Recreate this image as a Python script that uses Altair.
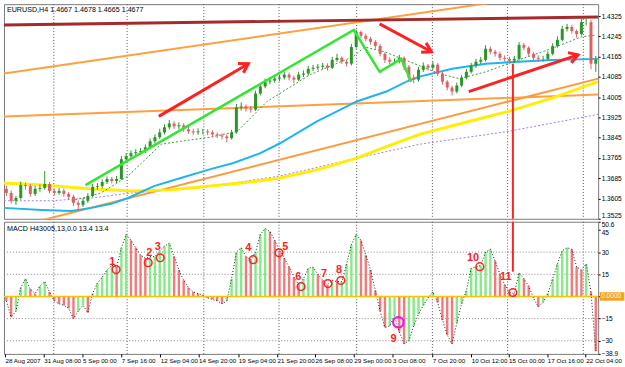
import json
import math
import altair as alt
import pandas as pd

FONT = "Liberation Sans"

# ---------------- data ----------------
price_title = "EURUSD,H4  1.4667 1.4678 1.4665 1.4677"
macd_title = "MACD H43005,13,0.0 13.4 13.4"

price_ticks = [1.3525, 1.3605, 1.3685, 1.3765, 1.3845, 1.3925, 1.4005, 1.4085, 1.4165, 1.4245, 1.4325]
macd_ticks = [50.6, 45, 30, 15, 0, -15, -30, -38.9]
macd_grid = [30, 15, -15, -30]

dates = ["28 Aug 2007", "31 Aug 08:00", "5 Sep 00:00", "7 Sep 16:00", "12 Sep 04:00",
         "14 Sep 20:00", "19 Sep 04:00", "21 Sep 20:00", "26 Sep 08:00", "29 Sep 00:00",
         "3 Oct 08:00", "7 Oct 20:00", "10 Oct 12:00", "15 Oct 00:00", "17 Oct 16:00",
         "22 Oct 04:00"]
date_pos = [-0.3, 7.8, 15.9, 24.0, 32.1, 40.1, 48.4, 56.5, 64.4, 72.5, 80.6, 88.9,
            97.0, 104.8, 112.9, 120.9]
grid_pos = [9.9, 25.2, 41.2, 56.9, 73.1, 88.9, 104.6, 120.4]

first_open = 1.3643
closes = [1.3627, 1.3596, 1.3607, 1.3658, 1.3654, 1.3623, 1.3643, 1.3647, 1.3662, 1.3635,
          1.3627, 1.3635, 1.3623, 1.3612, 1.3588, 1.3580, 1.3596, 1.3615, 1.3651, 1.3654,
          1.3670, 1.3682, 1.3674, 1.3682, 1.3760, 1.3772, 1.3784, 1.3788, 1.3792, 1.3807,
          1.3831, 1.3847, 1.3866, 1.3886, 1.3901, 1.3890, 1.3894, 1.3878, 1.3870, 1.3866,
          1.3870, 1.3870, 1.3866, 1.3858, 1.3854, 1.3850, 1.3843, 1.3866, 1.3964, 1.3968,
          1.3960, 1.3956, 1.4019, 1.4047, 1.4066, 1.4070, 1.4078, 1.4082, 1.4094, 1.4082,
          1.4074, 1.4094, 1.4098, 1.4117, 1.4121, 1.4125, 1.4129, 1.4121, 1.4152, 1.4160,
          1.4145, 1.4137, 1.4203, 1.4262, 1.4247, 1.4235, 1.4223, 1.4207, 1.4176, 1.4152,
          1.4145, 1.4145, 1.4160, 1.4125, 1.4082, 1.4074, 1.4113, 1.4129, 1.4121, 1.4133,
          1.4098, 1.4066, 1.4043, 1.4027, 1.4051, 1.4082, 1.4105, 1.4129, 1.4145, 1.4152,
          1.4196, 1.4184, 1.4176, 1.4160, 1.4156, 1.4149, 1.4156, 1.4211, 1.4200, 1.4176,
          1.4160, 1.4156, 1.4156, 1.4176, 1.4207, 1.4231, 1.4274, 1.4282, 1.4266, 1.4254,
          1.4301, 1.4301, 1.4137, 1.4152]
highs = [1.3655, 1.3636, 1.3615, 1.3672, 1.3668, 1.3662, 1.3655, 1.3660, 1.3713, 1.3670,
         1.3645, 1.3646, 1.3644, 1.3630, 1.3620, 1.3598, 1.3606, 1.3626, 1.3662, 1.3666,
         1.3680, 1.3692, 1.3690, 1.3694, 1.3772, 1.3784, 1.3795, 1.3800, 1.3804, 1.3818,
         1.3842, 1.3858, 1.3880, 1.3898, 1.3915, 1.3910, 1.3906, 1.3902, 1.3888, 1.3880,
         1.3882, 1.3880, 1.3878, 1.3874, 1.3866, 1.3862, 1.3858, 1.3876, 1.3978, 1.3984,
         1.3976, 1.3970, 1.4030, 1.4060, 1.4078, 1.4082, 1.4090, 1.4094, 1.4106, 1.4102,
         1.4090, 1.4105, 1.4110, 1.4128, 1.4132, 1.4136, 1.4140, 1.4138, 1.4164, 1.4176,
         1.4166, 1.4152, 1.4215, 1.4272, 1.4268, 1.4256, 1.4244, 1.4230, 1.4214, 1.4182,
         1.4162, 1.4158, 1.4172, 1.4166, 1.4132, 1.4094, 1.4124, 1.4142, 1.4136, 1.4145,
         1.4140, 1.4105, 1.4072, 1.4050, 1.4062, 1.4092, 1.4116, 1.4140, 1.4156, 1.4164,
         1.4210, 1.4205, 1.4192, 1.4184, 1.4170, 1.4164, 1.4168, 1.4222, 1.4218, 1.4206,
         1.4182, 1.4170, 1.4168, 1.4186, 1.4218, 1.4244, 1.4286, 1.4294, 1.4290, 1.4272,
         1.4321, 1.4315, 1.4310, 1.4168]
lows = [1.3615, 1.3585, 1.3580, 1.3600, 1.3640, 1.3612, 1.3615, 1.3632, 1.3640, 1.3625,
        1.3618, 1.3620, 1.3612, 1.3600, 1.3575, 1.3556, 1.3572, 1.3588, 1.3610, 1.3640,
        1.3645, 1.3662, 1.3664, 1.3666, 1.3678, 1.3752, 1.3764, 1.3774, 1.3778, 1.3784,
        1.3800, 1.3822, 1.3840, 1.3858, 1.3878, 1.3880, 1.3878, 1.3868, 1.3860, 1.3855,
        1.3856, 1.3858, 1.3855, 1.3848, 1.3844, 1.3838, 1.3827, 1.3838, 1.3860, 1.3952,
        1.3948, 1.3944, 1.3950, 1.4012, 1.4040, 1.4056, 1.4062, 1.4068, 1.4074, 1.4072,
        1.4060, 1.4068, 1.4084, 1.4090, 1.4108, 1.4112, 1.4115, 1.4110, 1.4116, 1.4144,
        1.4136, 1.4126, 1.4130, 1.4196, 1.4238, 1.4225, 1.4212, 1.4196, 1.4166, 1.4140,
        1.4134, 1.4134, 1.4138, 1.4112, 1.4070, 1.4060, 1.4066, 1.4104, 1.4110, 1.4112,
        1.4088, 1.4054, 1.4032, 1.4012, 1.4020, 1.4044, 1.4075, 1.4098, 1.4120, 1.4136,
        1.4146, 1.4174, 1.4165, 1.4150, 1.4145, 1.4138, 1.4140, 1.4150, 1.4190, 1.4165,
        1.4150, 1.4145, 1.4146, 1.4150, 1.4170, 1.4200, 1.4225, 1.4264, 1.4256, 1.4240,
        1.4248, 1.4288, 1.4115, 1.4105]

macd = [-3, -14, -10, 6, 12, 5, 2, 7, 10, 3,
        -3, -5, -6, -8, -15, -10, -6, -11, 2, 9,
        13, 18, 21, 20, 33, 42, 38, 33, 28, 26,
        27, 27, 31, 34, 36, 27, 18, 11, 6, 3,
        2, 1, -1, -2, -3, -5, -3, 12, 30, 33,
        27, 25, 30, 42, 46, 44, 38, 31, 26, 20,
        13, 8, 12, 19, 20, 15, 11, 8, 11, 10,
        10, 22, 35, 42, 38, 28, 18, 4, -10, -21,
        -20, -13, -24, -32, -30, -20, -12, -6, -1, 3,
        -4, -16, -26, -32, -18, -5, 4, 19, 20, 21,
        30, 32, 24, 15, 8, 3, 2, 16, 12, 7,
        -1, -7, -4, 2, 12, 22, 31, 33, 32, 20,
        18, 22, 3, -37]

# moving averages (key points: bar index, price)
blue_x = [-0.5, 7.4, 13.6, 17.7, 21.9, 25.4, 30.8, 36.4, 42.6, 47.4, 53.0, 57.1, 61.3,
          64.8, 69.0, 73.1, 79.3, 83.5, 86.2, 93.0, 100.1, 106.9, 113.7, 123.5]
blue_y = [1.3568, 1.3560, 1.3556, 1.3568, 1.3584, 1.3607, 1.3654, 1.3686, 1.3721, 1.3745,
          1.3784, 1.3823, 1.3870, 1.3909, 1.3949, 1.3988, 1.4027, 1.4066, 1.4086, 1.4117,
          1.4137, 1.4145, 1.4152, 1.4156]
yellow_x = [-0.5, 7.4, 17.7, 26.0, 34.3, 42.6, 50.9, 57.1, 65.4, 73.1, 80.0, 86.2, 96.5,
            104.8, 113.7, 123.5]
yellow_y = [1.3666, 1.3658, 1.3643, 1.3635, 1.3639, 1.3654, 1.3670, 1.3686, 1.3721, 1.3764,
            1.3815, 1.3858, 1.3909, 1.3949, 1.4000, 1.4066]
purple_x = [-0.5, 9.5, 17.7, 26.0, 40.6, 57.1, 73.1, 86.2, 104.8, 123.5]
purple_y = [1.3596, 1.3596, 1.3607, 1.3627, 1.3647, 1.3694, 1.3764, 1.3819, 1.3870, 1.3937]
gdot_x = [13.6, 19.8, 25.4, 32.3, 36.4, 42.6, 48.2, 54.4, 63.4, 72.3, 74.8, 78.9, 84.1,
          90.3, 94.5, 100.1, 106.9, 113.7, 120.0, 123.1]
gdot_y = [1.3596, 1.3627, 1.3694, 1.3819, 1.3831, 1.3847, 1.3870, 1.3988, 1.4094, 1.4164,
          1.4203, 1.4184, 1.4145, 1.4098, 1.4078, 1.4105, 1.4152, 1.4196, 1.4243, 1.4250]

# trend lines (two end points each)
brown_line = [(-0.5, 1.4290), (123.5, 1.4321)]
orange_top = [(-0.5, 1.4098), (123.5, 1.4439)]
orange_mid = [(-0.5, 1.3929), (123.5, 1.4015)]
orange_low = [(-0.5, 1.3481), (123.5, 1.4078)]
zigzag_x = [16.5, 72.5, 77.9, 82.4, 84.5]
zigzag_y = [1.3658, 1.4270, 1.4105, 1.4156, 1.4066]

arrow_x0 = [31.8, 77.9, 96.5]
arrow_y0 = [1.3929, 1.4294, 1.4027]
arrow_x1 = [50.5, 88.7, 119.3]
arrow_y1 = [1.4137, 1.4184, 1.4172]

vline_x = 105.7
vline_top_price = 1.4137
vline_bottom_macd = 16.8

# numbered marks on the MACD panel
mark_ids = ["1", "2", "3", "4", "5", "6", "7", "8", "9", "10", "11"]
mark_x = [22.9, 29.6, 32.1, 51.5, 56.9, 61.5, 67.1, 69.8, 81.8, 98.8, 105.7]
mark_v = [18.2, 22.9, 26.2, 24.9, 29.6, 6.7, 8.7, 10.8, -17.5, 20.2, 2.7]
label_x = [22.1, 29.8, 31.6, 50.5, 58.2, 60.9, 66.3, 69.4, 80.8, 97.4, 104.2]
label_v = [23.5, 29.6, 33.6, 33.0, 33.6, 13.4, 15.5, 18.2, -28.9, 26.2, 13.4]
magenta_mark = "9"

# ---------------- layout ----------------
W, HT, HB = 598, 216, 133
N = len(closes)
idx = list(range(N))
opens = [first_open] + closes[:-1]
RED = "#ff2020"

xs = alt.Scale(domain=[-0.5, N - 0.5], nice=False, zero=False)
ps = alt.Scale(domain=[1.3525, 1.4372], nice=False, zero=False)
ms = alt.Scale(domain=[-38.9, 50.6], nice=False, zero=False)
sx = W / N
sy = HT / (1.4372 - 1.3525)

price_axis = alt.Axis(orient="right", values=price_ticks, format=".4f", labelFont=FONT,
                      labelFontSize=6.6, labelColor="#000", tickSize=2, tickColor="#000",
                      labelPadding=1, grid=False, domain=False, title=None, labelOverlap=False,
                      labelBaseline={"condition": {"test": f"datum.value == {price_ticks[0]}",
                                                   "value": "bottom"}, "value": "middle"})
macd_axis = alt.Axis(orient="right", values=macd_ticks, labelFont=FONT, labelFontSize=6.6,
                     labelColor="#000", tickSize=2, tickColor="#000", labelPadding=1,
                     grid=False, domain=False, title=None, labelOverlap=False,
                     labelBaseline={"condition": {"test": f"datum.value >= {macd_ticks[1]}",
                                                  "value": "top"}, "value": "middle"},
                     labelExpr="datum.value == 0 ? '' : (datum.value == 50.6 || datum.value == -38.9 ? format(datum.value, '.1f') : format(datum.value, 'd'))")
date_axis = alt.Axis(orient="bottom", values=date_pos, labelFont=FONT, labelFontSize=6.3,
                     labelColor="#000", tickSize=3, tickColor="#000", labelPadding=1,
                     labelAlign="left", labelFlush=False, labelOverlap=False, grid=False,
                     domain=False, title=None,
                     labelExpr=f"{json.dumps(dates)}[indexof({json.dumps(date_pos)}, datum.value)]")


def PX(f="x"):
    return alt.X(f"{f}:Q", scale=xs, axis=None)


def PY(f="y"):
    return alt.Y(f"{f}:Q", scale=ps, axis=price_axis)


def MX(f="x"):
    return alt.X(f"{f}:Q", scale=xs, axis=date_axis)


def MY(f="v"):
    return alt.Y(f"{f}:Q", scale=ms, axis=macd_axis)


def pline(xv, yv, **kw):
    df = pd.DataFrame({"x": xv, "y": yv})
    return alt.Chart(df).mark_line(clip=True, **kw).encode(x=PX(), y=PY())


def seg(pts, **kw):
    return pline([p[0] for p in pts], [p[1] for p in pts], **kw)


# ---------------- price panel ----------------
gdf = pd.DataFrame({"x": grid_pos})
vgrid_top = alt.Chart(gdf).mark_rule(color="#555", strokeDash=[1, 2], strokeWidth=1).encode(x=PX())

cdf = pd.DataFrame({"x": idx, "o": opens, "c": closes, "h": highs, "l": lows})
cdf["dir"] = ["up" if c >= o else "dn" for o, c in zip(opens, closes)]
ccol = alt.condition(alt.datum.dir == "up", alt.value("#2a962a"), alt.value("#d96363"))
wicks = alt.Chart(cdf).mark_rule(strokeWidth=1).encode(x=PX(), y=PY("l"), y2=alt.Y2("h"), color=ccol)
bodies = alt.Chart(cdf).mark_rule(strokeWidth=3).encode(x=PX(), y=PY("o"), y2=alt.Y2("c"), color=ccol)

adf = pd.DataFrame({"x": arrow_x0 + arrow_x1, "y": arrow_y0 + arrow_y1,
                    "id": list(range(len(arrow_x0))) * 2})
arrows = alt.Chart(adf).mark_line(color=RED, strokeWidth=3, clip=True).encode(
    x=PX(), y=PY(), detail="id:N")
angles = [math.degrees(math.atan2(-(y1 - y0) * sy, (x1 - x0) * sx)) % 360
          for x0, y0, x1, y1 in zip(arrow_x0, arrow_y0, arrow_x1, arrow_y1)]
hdf = pd.DataFrame({"x": arrow_x1, "y": arrow_y1, "ang": angles})
heads = alt.Chart(hdf).mark_point(shape="M -1 -0.6 L 0 0 L -1 0.6", size=320, filled=False,
                                  strokeWidth=3, color=RED, opacity=1).encode(
    x=PX(), y=PY(), angle=alt.Angle("ang:Q", scale=None))

vdf_top = pd.DataFrame({"x": [vline_x], "y": [vline_top_price], "y2": [1.3525]})
vline_top = alt.Chart(vdf_top).mark_rule(color=RED, strokeWidth=2).encode(
    x=PX(), y=PY(), y2=alt.Y2("y2"))

tdf = pd.DataFrame({"t": [price_title]})
title_top = alt.Chart(tdf).mark_text(align="left", baseline="middle", font=FONT, fontSize=7.2,
                                     color="#000").encode(x=alt.value(3), y=alt.value(6), text="t:N")

top = alt.layer(
    vgrid_top,
    seg(orange_top, color="#ffa040", strokeWidth=2),
    seg(orange_mid, color="#ffa040", strokeWidth=2),
    seg(orange_low, color="#ff9a3c", strokeWidth=2),
    seg(brown_line, color="#a52a2a", strokeWidth=3),
    pline(purple_x, purple_y, color="#a878f0", strokeWidth=1, strokeDash=[2, 2]),
    pline(yellow_x, yellow_y, color="#ffee00", strokeWidth=3),
    pline(blue_x, blue_y, color="#1eb4f0", strokeWidth=2),
    pline(gdot_x, gdot_y, color="#3a9a3a", strokeWidth=1, strokeDash=[2, 2]),
    wicks, bodies,
    pline(zigzag_x, zigzag_y, color="#33e633", strokeWidth=2.5),
    arrows, heads, vline_top, title_top,
).properties(width=W, height=HT)

# ---------------- MACD panel ----------------
mdf = pd.DataFrame({"x": idx, "v": macd, "z": [0] * N})
mdf["dir"] = ["up" if i > 0 and macd[i] >= macd[i - 1] else "dn" for i in range(N)]
hcol = alt.condition(alt.datum.dir == "up", alt.value("#86ea86"), alt.value("#f27a7a"))
hist = alt.Chart(mdf).mark_rule(strokeWidth=2.4).encode(x=MX(), y=MY("v"), y2=alt.Y2("z"), color=hcol)
mline = alt.Chart(mdf).mark_line(color="#222", strokeDash=[1, 2], strokeWidth=1).encode(x=MX(), y=MY("v"))

vgrid_bot = alt.Chart(gdf).mark_rule(color="#555", strokeDash=[1, 2], strokeWidth=1).encode(x=MX())
hgdf = pd.DataFrame({"v": macd_grid})
hgrid = alt.Chart(hgdf).mark_rule(color="#888", strokeDash=[1, 2], strokeWidth=1).encode(y=MY("v"))
zdf = pd.DataFrame({"v": [0], "t": ["0.0000"]})
zero_line = alt.Chart(zdf).mark_rule(color="#ffc000", strokeWidth=1.5).encode(y=MY("v"))
zero_box = alt.Chart(zdf).mark_point(shape="M -1.6 -0.55 L 1.6 -0.55 L 1.6 0.55 L -1.6 0.55 Z",
                                     size=240, filled=True, color="#f2a324", opacity=1,
                                     strokeWidth=0).encode(x=alt.value(W + 14), y=MY("v"))
zero_text = alt.Chart(zdf).mark_text(align="left", baseline="middle", font=FONT, fontSize=6.6,
                                     color="#fff8d0").encode(x=alt.value(W + 3), y=MY("v"), text="t:N")

vdf_bot = pd.DataFrame({"x": [vline_x], "v": [50.6], "v2": [vline_bottom_macd]})
vline_bot = alt.Chart(vdf_bot).mark_rule(color=RED, strokeWidth=2).encode(
    x=MX(), y=MY("v"), y2=alt.Y2("v2"))

kdf = pd.DataFrame({"x": mark_x, "v": mark_v, "id": mark_ids})
circ_red = alt.Chart(kdf[kdf.id != magenta_mark]).mark_point(
    shape="circle", size=60, filled=False, color=RED, strokeWidth=1.5, opacity=1).encode(x=MX(), y=MY("v"))
circ_mag = alt.Chart(kdf[kdf.id == magenta_mark]).mark_point(
    shape="circle", size=110, filled=False, color="#e020e0", strokeWidth=2.2, opacity=1).encode(x=MX(), y=MY("v"))
ldf = pd.DataFrame({"x": label_x, "v": label_v, "t": mark_ids})
labels = alt.Chart(ldf).mark_text(font=FONT, fontSize=11, fontWeight="bold", color=RED,
                                  baseline="middle").encode(x=MX(), y=MY("v"), text="t:N")

mtdf = pd.DataFrame({"t": [macd_title]})
title_bot = alt.Chart(mtdf).mark_text(align="left", baseline="middle", font=FONT, fontSize=7.2,
                                      color="#000").encode(x=alt.value(3), y=alt.value(7), text="t:N")

bottom = alt.layer(
    vgrid_bot, hgrid, hist, mline, zero_line, vline_bot, circ_red, circ_mag, labels,
    zero_box, zero_text, title_bot,
).properties(width=W, height=HB)

chart = alt.vconcat(top, bottom, spacing=3, bounds="flush").properties(
    padding={"left": 2, "top": 2, "right": 0, "bottom": 0},
    background="white",
).configure_view(stroke="#7a7a7a", strokeWidth=1)

chart.save("out.html", embed_options={"renderer": "svg", "actions": False})
